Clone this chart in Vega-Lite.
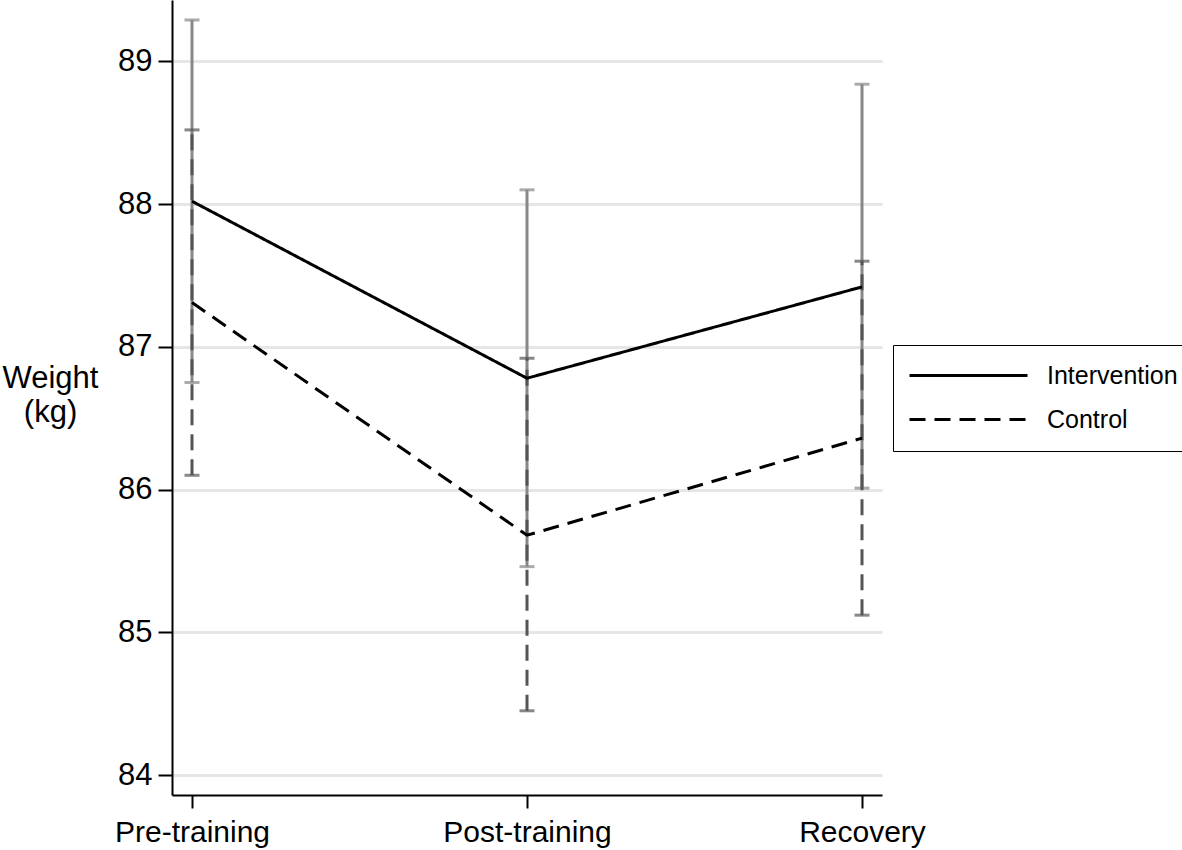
{
  "$schema": "https://vega.github.io/schema/vega-lite/v6.json",
  "width": 710,
  "height": 795,
  "autosize": {"type": "none"},
  "padding": {"left": 172, "top": 0, "right": 300, "bottom": 55},
  "background": "white",
  "config": {
    "view": {"stroke": null},
    "font": "Liberation Sans"
  },
  "data": {
    "values": [
      {"group": "Intervention", "time": "Pre-training", "mean": 88.02, "lo": 86.75, "hi": 89.29},
      {"group": "Intervention", "time": "Post-training", "mean": 86.78, "lo": 85.46, "hi": 88.10},
      {"group": "Intervention", "time": "Recovery", "mean": 87.42, "lo": 86.01, "hi": 88.84},
      {"group": "Control", "time": "Pre-training", "mean": 87.31, "lo": 86.10, "hi": 88.52},
      {"group": "Control", "time": "Post-training", "mean": 85.68, "lo": 84.45, "hi": 86.92},
      {"group": "Control", "time": "Recovery", "mean": 86.36, "lo": 85.12, "hi": 87.60}
    ]
  },
  "encoding": {
    "x": {
      "field": "time", "type": "ordinal",
      "sort": ["Pre-training", "Post-training", "Recovery"],
      "scale": {"type": "point", "padding": 0.0597},
      "axis": {
        "title": null, "labelAngle": 0, "labelFontSize": 30, "labelColor": "black",
        "domainColor": "black", "domainWidth": 2, "tickColor": "black", "tickWidth": 2,
        "tickSize": 13, "labelPadding": 9, "grid": false
      }
    }
  },
  "layer": [
    {
      "transform": [{"filter": "datum.group === 'Intervention'"}],
      "mark": {"type": "rule", "color": "#888888", "strokeWidth": 3},
      "encoding": {
        "y": {
          "field": "lo", "type": "quantitative",
          "scale": {"domain": [83.86, 89.43], "zero": false, "nice": false},
          "axis": {
            "values": [84, 85, 86, 87, 88, 89], "format": "d",
            "title": ["Weight", "(kg)"], "titleAngle": 0, "titleFontSize": 31, "titleFontWeight": "normal",
            "titleColor": "black", "titleAlign": "center", "titleBaseline": "middle",
            "titleX": -122, "titleY": 378, "titleLineHeight": 34,
            "labelFontSize": 31, "labelColor": "black", "labelPadding": 6,
            "domainColor": "black", "domainWidth": 2, "tickColor": "black", "tickWidth": 2, "tickSize": 14,
            "grid": true, "gridColor": "#e6e6e6", "gridWidth": 3
          }
        },
        "y2": {"field": "hi"}
      }
    },
    {
      "transform": [{"filter": "datum.group === 'Intervention'"}],
      "mark": {"type": "tick", "color": "#888888", "thickness": 3, "size": 15},
      "encoding": {"y": {"field": "hi", "type": "quantitative"}}
    },
    {
      "transform": [{"filter": "datum.group === 'Intervention'"}],
      "mark": {"type": "tick", "color": "#888888", "thickness": 3, "size": 15},
      "encoding": {"y": {"field": "lo", "type": "quantitative"}}
    },
    {
      "transform": [{"filter": "datum.group === 'Control'"}],
      "mark": {"type": "rule", "color": "#555555", "strokeWidth": 3, "strokeDash": [16, 9]},
      "encoding": {
        "y": {"field": "lo", "type": "quantitative"},
        "y2": {"field": "hi"}
      }
    },
    {
      "transform": [{"filter": "datum.group === 'Control'"}],
      "mark": {"type": "tick", "color": "#555555", "thickness": 3, "size": 15},
      "encoding": {"y": {"field": "hi", "type": "quantitative"}}
    },
    {
      "transform": [{"filter": "datum.group === 'Control'"}],
      "mark": {"type": "tick", "color": "#555555", "thickness": 3, "size": 15},
      "encoding": {"y": {"field": "lo", "type": "quantitative"}}
    },
    {
      "mark": {"type": "line", "color": "black", "strokeWidth": 3},
      "encoding": {
        "y": {"field": "mean", "type": "quantitative"},
        "detail": {"field": "group"},
        "strokeDash": {
          "field": "group", "type": "nominal",
          "scale": {"domain": ["Intervention", "Control"], "range": [[1, 0], [16, 9]]},
          "legend": {
            "title": null, "orient": "none", "legendX": 721, "legendY": 345,
            "padding": 18, "strokeColor": "black", "fillColor": "white",
            "symbolType": "M-5.9,0H5.9", "symbolSize": 400, "symbolStrokeWidth": 3,
            "symbolStrokeColor": "black", "symbolOffset": 45,
            "labelFontSize": 25, "labelColor": "black", "labelOffset": 66,
            "rowPadding": 18, "labelLimit": 300
          }
        }
      }
    }
  ]
}
